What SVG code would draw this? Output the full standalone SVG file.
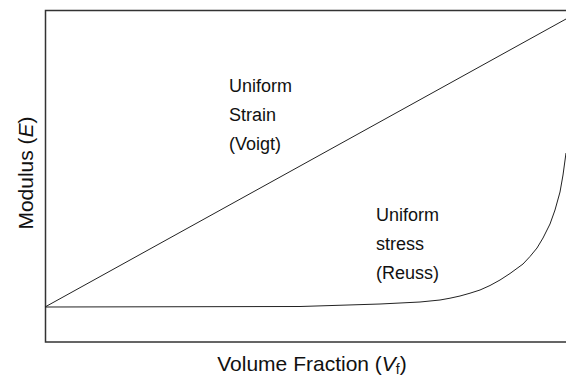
<svg xmlns="http://www.w3.org/2000/svg" width="566" height="378" viewBox="0 0 566 378">
<style>
.frame{fill:none;stroke:#333;stroke-width:1.5}
.curve{fill:none;stroke:#222;stroke-width:1;stroke-linejoin:round}
.lbl{font-family:"Liberation Sans",Arial,sans-serif;font-size:18px;fill:#111}
.ax{font-family:"Liberation Sans",Arial,sans-serif;font-size:21px;fill:#111}
</style>
<rect width="566" height="378" fill="#fff"/>
<g id="frame"><rect class="frame" x="45.5" y="10.5" width="540" height="331.5"/></g>
<g id="connectors">
<line class="curve" x1="45" y1="307" x2="566" y2="19"/>
<polyline class="curve" points="45,307 300,306.5 380,304 400,303 420,302 440,300 450,298.2 460,296 470,293.2 480,290 490,285.5 500,280 510,273.5 523,264 530,256.5 537,248 543,238 550,224 555,210 560,192 563,175 566,153"/>
</g>
<g id="voigt-label">
<text class="lbl" x="229" y="92">Uniform</text>
<text class="lbl" x="229" y="121">Strain</text>
<text class="lbl" x="229" y="150">(Voigt)</text>
</g>
<g id="reuss-label">
<text class="lbl" x="376" y="221">Uniform</text>
<text class="lbl" x="376" y="250">stress</text>
<text class="lbl" x="376" y="279">(Reuss)</text>
</g>
<g id="x-axis-label">
<text class="ax" x="312" y="371" text-anchor="middle">Volume Fraction (<tspan font-style="italic">V</tspan><tspan font-size="14" dy="3">f</tspan><tspan dy="-3">)</tspan></text>
</g>
<g id="y-axis-label">
<text class="ax" transform="translate(33,173) rotate(-90)" text-anchor="middle">Modulus (<tspan font-style="italic">E</tspan>)</text>
</g>
</svg>
